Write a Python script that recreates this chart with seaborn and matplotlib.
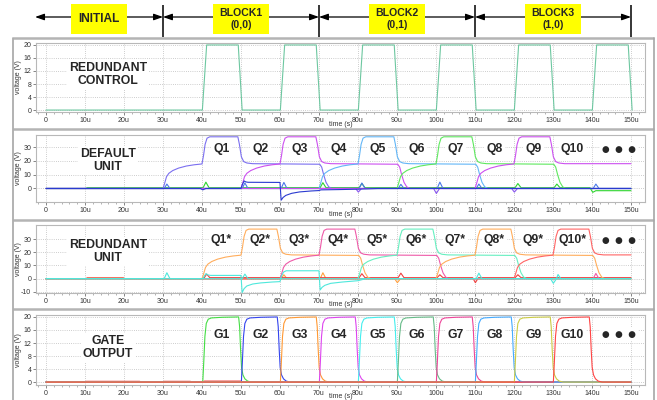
import numpy as np
import pandas as pd
import matplotlib
matplotlib.use("Agg")
import matplotlib.pyplot as plt
import seaborn as sns
from matplotlib.patches import Rectangle
from matplotlib.ticker import FixedLocator, MultipleLocator

# ---------------------------------------------------------------- data ----
T_END = 150  # simulation end, µs

x_ticks = [0, 10, 20, 30, 40, 50, 60, 70, 80, 90, 100, 110, 120, 130, 140, 150]
x_tick_labels = ["0"] + [f"{v}u" for v in x_ticks[1:]]

# phase header
block_edges = [-2.8, 30, 70, 110, 150]
block_names = ["INITIAL", "BLOCK1\n(0,0)", "BLOCK2\n(0,1)", "BLOCK3\n(1,0)"]

# redundant control signal
ctrl_t = [0, 40.1, 41.2, 49.3, 50.3, 60.1, 61.2, 69.3, 70.3, 80.1, 81.2, 89.3, 90.3,
          100.1, 101.2, 109.3, 110.3, 120.1, 121.2, 129.3, 130.3, 140.1, 141.2, 149.3, 150.3]
ctrl_v = [0, 0, 20, 20, 0, 0, 20, 20, 0, 0, 20, 20, 0,
          0, 20, 20, 0, 0, 20, 20, 0, 0, 20, 20, 0]

# Q node waveform, relative to the start of its charging phase
q_dt = [0, 0.4, 0.9, 1.5, 2.5, 4, 6, 8, 10, 10.4, 10.8, 11.3, 12, 19.2, 19.6, 20.1,
        20.7, 21.5, 23, 40.2, 40.7, 41.2, 41.8, 42.5, 43.3]
q_v = [0, 3.5, 8.5, 11, 13, 14.8, 16.3, 17.2, 17.8, 24, 32, 36.5, 37.5, 37.5, 32, 23,
       19.5, 18.5, 18, 17.6, 15.5, 10, 4.5, 1.2, 0]

default_q_names = ["Q1", "Q3", "Q5", "Q7", "Q9"]
default_q_start = [30, 50, 70, 90, 110]
default_q_colors = ["#7b6ff0", "#cc4ff0", "#62b6f7", "#5ee85e", "#cc4ff0"]

redundant_q_names = ["Q2*", "Q4*", "Q6*", "Q8*", "Q10*"]
redundant_q_start = [40, 60, 80, 100, 120]
redundant_q_colors = ["#ffad5c", "#ee5aa8", "#66efc0", "#ffad5c", "#ff6464"]

# default unit: auxiliary nodes
def_green_t = [0, 10.2, 10.6, 40.3, 41, 41.8, 70.3, 71, 71.8, 80.3, 81, 81.8, 120.3, 121,
               121.8, 130.3, 131, 131.8, 139.5, 140.2, 141, 150]
def_green_v = [0, 0, 0.6, 0.6, 4.6, 0.6, 0.6, 4.2, 0.6, 0.6, 3.6, 0.6, 0.6, 3.6,
               0.6, 0.6, 3.2, 0.6, 0.6, -2.8, -1.6, -1.6]
def_blue_t = [0, 30.3, 31, 31.8, 50.3, 51, 51.8, 60.3, 61, 61.8, 80.3, 81, 81.8, 90.3, 91,
              91.8, 100.3, 101, 101.8, 110.3, 111, 111.8, 140.3, 141, 141.8, 150]
def_blue_v = [0, 0, 3.2, 0, 0, 4, 0, 0, 4.4, 0, 0, 4, 0, 0, 3,
              0, 0, 4.6, 0, 0, 3.2, 0, 0, 3.2, 0, 0]
def_dip_t = [0, 79.4, 80.1, 80.9, 99.4, 100.1, 100.9, 119.4, 120.1, 120.9, 150]
def_dip_v = [0, 0, -2.6, 0, 0, -3.6, 0, 0, -2.6, 0, 0]
def_drv_t = [0, 39.6, 40.2, 41.0, 50.0, 50.3, 50.8, 51.2, 51.8, 60.0, 60.3, 60.8, 61.5,
             63, 65, 68, 70, 70.5, 75, 80, 85, 150]
def_drv_v = [0, 0, -1.0, 0, 0, 2.5, 5.5, 4.8, 4.5, 4.4, -8.5, -6.5, -5.0,
             -3.5, -2.5, -1.8, -1.5, -1.0, -0.8, -0.5, 0, 0]

# redundant unit: auxiliary nodes
red_drv_t = [0, 30.3, 31, 31.8, 40.2, 40.6, 41.0, 41.6, 42.2, 50.0, 50.3, 50.8, 51.5, 53,
             55, 58, 60, 60.4, 60.9, 61.6, 62.5, 70.0, 70.3, 70.8, 71.5, 73, 76, 80, 82, 150]
red_drv_v = [0, 0, 4.5, 0, 0, 2.0, 3.8, 2.8, 2.5, 2.5, -10.5, -7.5, -5.5, -4.0,
             -3.2, -2.5, -2.2, 2.0, 5.0, 6.0, 6.0, 6.0, -8.5, -6.5, -5.0, -3.5, -2.5, -1.5, 0, 0]
red_cyan_t = [0, 50.3, 51, 51.8, 110.3, 111, 111.8, 129.4, 130.1, 130.9, 131.3, 132, 150]
red_cyan_v = [0, 0, 3.5, 0, 0, 4.2, 0, 0, -3.5, 0, 3.2, 0, 0]
red_red_t = [0, 10.2, 10.6, 19.8, 20.2, 40.2, 40.6, 41.2, 42, 80.3, 81, 81.8, 90.3, 91,
             91.8, 100.3, 101, 101.8, 109.4, 110.1, 110.9, 120.3, 121, 121.8, 150]
red_red_v = [0, 0, 0.6, 0.6, 0, 0, 0.8, 3.5, 0.8, 0.8, 3.8, 0.8, 0.8, 4.2,
             0.8, 0.8, 3.0, 0.8, 0.8, -3.0, 0.8, 0.8, 3.0, 0.8, 0.8]
red_orange_t = [0, 10.2, 10.6, 19.8, 20.2, 60.3, 61, 61.8, 70.3, 71, 71.8, 89.4, 90.1,
                90.9, 150]
red_orange_v = [0, 0, 0.5, 0.5, 0, 0, 3.0, 0, 0, 4.5, 0, 0, -3.0, 0, 0]
red_pink_t = [0, 140.3, 141, 141.8, 150]
red_pink_v = [0, 0, 4.0, 0, 0]

# gate output pulse, relative to its rising edge
g_dt = [0, 0.25, 0.55, 0.9, 1.4, 2.2, 5, 9.2, 9.45, 9.7, 9.95, 10.3, 10.8, 11.5, 12.5]
g_v = [0, 6, 14, 18, 19.3, 19.7, 19.9, 20, 17, 10, 4.5, 2.2, 1.0, 0.3, 0]

gate_names = ["G1", "G2", "G3", "G4", "G5", "G6", "G7", "G8", "G9", "G10"]
gate_start = [40.2, 50.1, 60.1, 70.1, 80.1, 90.1, 100.1, 110.1, 120.1, 130.1]
gate_colors = ["#44dd44", "#3344ee", "#ff9933", "#dd44ee", "#44eeee",
               "#66bb88", "#ee4499", "#44aaff", "#cccc44", "#ff4444"]
gate_leak_t = [0, 10, 10.3, 24, 24.3, 30, 30.3, 37, 37.3, 40.3, 40.6, 50, 50.3, 150]
gate_leak_v = [0, 0, 0.25, 0.25, 0, 0, 0.25, 0.25, 0, 0, 0.35, 0.35, 0, 0]

default_labels = ["Q1", "Q2", "Q3", "Q4", "Q5", "Q6", "Q7", "Q8", "Q9", "Q10"]
redundant_labels = ["Q1*", "Q2*", "Q3*", "Q4*", "Q5*", "Q6*", "Q7*", "Q8*", "Q9*", "Q10*"]


def node_trace(start, dts, vs, t_end=T_END):
    """Place a waveform shape at `start`; the node sits at 0 before it and
    holds its last level up to the end of the run."""
    t = [0.0] + [start + d for d in dts]
    v = [0.0] + list(vs)
    pts = [(a, b) for a, b in zip(t, v) if a <= t_end]
    if pts[-1][0] < t_end:
        pts.append((t_end, pts[-1][1]))
    return [p[0] for p in pts], [p[1] for p in pts]


# ---------------------------------------------------------------- figure --
sns.set_theme(style="white")
plt.rcParams["font.family"] = ["Liberation Sans", "DejaVu Sans"]

W, H = 657, 400
fig = plt.figure(figsize=(W / 100, H / 100), dpi=100, facecolor="white")


def px_axes(l, t, r, b, **kw):
    return fig.add_axes([l / W, 1 - b / H, (r - l) / W, (b - t) / H], **kw)


XLIM = (-2.56, 153.6)
LW = 0.8

# panel frame
deco = px_axes(0, 0, W, H, zorder=-5)
deco.set_xlim(0, W)
deco.set_ylim(H, 0)
deco.axis("off")
for yy in [38, 129, 220, 309]:
    deco.plot([12.7, 654], [yy, yy], color="#b4b4b4", lw=1.8, solid_capstyle="butt")
for xx in [12.7, 654]:
    deco.plot([xx, xx], [38, H], color="#a6a6a6", lw=1.2)

# phase header
hdr = px_axes(36, 0, 645, 38)
hdr.set_xlim(*XLIM)
hdr.set_ylim(38, 0)
hdr.axis("off")
hdr.vlines(block_edges, 5, 37, color="black", lw=1.1)
for a, b, name in zip(block_edges[:-1], block_edges[1:], block_names):
    hdr.annotate("", xy=(b, 17), xytext=(a, 17),
                 arrowprops=dict(arrowstyle="<|-|>,head_length=0.45,head_width=0.16",
                                 color="black", lw=0.9, shrinkA=0, shrinkB=0))
    mid = (a + b) / 2
    hdr.add_patch(Rectangle((mid - 7.2, 3.5), 14.4, 30.5, facecolor="#ffff00",
                            edgecolor="none", zorder=3))
    single = "\n" not in name
    hdr.text(mid, 19 if single else 18.8, name, ha="center", va="center",
             fontsize=8.6 if single else 7.6, fontweight="bold", zorder=4,
             linespacing=1.3)

panels = [
    dict(top=43, bottom=112, ylim=(-0.6, 20.6), yticks=[0, 4, 8, 12, 16, 20]),
    dict(top=135, bottom=202, ylim=(-9.8, 38.8), yticks=[0, 10, 20, 30]),
    dict(top=225, bottom=293, ylim=(-10.8, 40.6), yticks=[-10, 0, 10, 20, 30]),
    dict(top=315, bottom=385, ylim=(-0.9, 20.6), yticks=[0, 4, 8, 12, 16, 20]),
]

# traces per panel: (name, t, v, colour)
traces = [[], [], [], []]
traces[0].append(("ctrl", ctrl_t, ctrl_v, "#6dc7a0"))

traces[1].append(("def_green", def_green_t, def_green_v, "#2ed42e"))
traces[1].append(("def_blue", def_blue_t, def_blue_v, "#4a78e8"))
traces[1].append(("def_dip", def_dip_t, def_dip_v, "#8855ee"))
for n, s, c in zip(default_q_names, default_q_start, default_q_colors):
    t, v = node_trace(s, q_dt, q_v)
    traces[1].append((n, t, v, c))
traces[1].append(("def_drv", def_drv_t, def_drv_v, "#2a3ad0"))

traces[2].append(("red_orange", red_orange_t, red_orange_v, "#ffa040"))
traces[2].append(("red_red", red_red_t, red_red_v, "#ee4040"))
traces[2].append(("red_pink", red_pink_t, red_pink_v, "#ee5aa8"))
for n, s, c in zip(redundant_q_names, redundant_q_start, redundant_q_colors):
    t, v = node_trace(s, q_dt, q_v)
    traces[2].append((n, t, v, c))
traces[2].append(("red_cyan", red_cyan_t, red_cyan_v, "#4ee8dc"))
traces[2].append(("red_drv", red_drv_t, red_drv_v, "#4ee8dc"))

traces[3].append(("gate_leak", gate_leak_t, gate_leak_v, "#f07070"))
for n, s, c in zip(gate_names, gate_start, gate_colors):
    t, v = node_trace(s, g_dt, g_v)
    traces[3].append((n, t, v, c))

panel_titles = ["REDUNDANT\nCONTROL", "DEFAULT\nUNIT", "REDUNDANT\nUNIT", "GATE\nOUTPUT"]
title_y = [11, 20.4, 20.7, 10.6]
slot_labels = [None, default_labels, redundant_labels, gate_names]
slot_y = [None, 28.5, 29, 14.5]

label_box = dict(facecolor="white", edgecolor="none", pad=1.5)

for i, spec in enumerate(panels):
    ax = px_axes(36, spec["top"], 645, spec["bottom"])
    rows = []
    for name, t, v, _ in traces[i]:
        rows.append(pd.DataFrame({"t": t, "v": v, "trace": name}))
    df = pd.concat(rows, ignore_index=True)
    order = [tr[0] for tr in traces[i]]
    pal = {tr[0]: tr[3] for tr in traces[i]}
    sns.lineplot(data=df, x="t", y="v", hue="trace", hue_order=order, palette=pal,
                 estimator=None, sort=False, lw=LW, legend=False, ax=ax)

    ax.set_xlim(*XLIM)
    ax.set_ylim(*spec["ylim"])
    ax.xaxis.set_major_locator(FixedLocator(x_ticks))
    ax.set_xticklabels(x_tick_labels)
    ax.xaxis.set_minor_locator(MultipleLocator(2))
    ax.yaxis.set_major_locator(FixedLocator(spec["yticks"]))
    ax.set_yticklabels([str(y) for y in spec["yticks"]])
    ax.tick_params(axis="both", which="major", labelsize=5, colors="#555555",
                   labelcolor="#333333", length=2.2, width=0.5, pad=1.2, direction="out",
                   bottom=True, left=True)
    ax.tick_params(axis="x", which="minor", length=1.2, width=0.4, colors="#777777",
                   bottom=True)
    ax.grid(True, which="major", color="#bdbdbd", lw=0.6, ls=(0, (1, 1.6)))
    ax.set_axisbelow(True)
    for sp in ax.spines.values():
        sp.set_color("#b8b8b8")
        sp.set_linewidth(0.8)
    ax.set_xlabel("time (s)", fontsize=5, color="#333333")
    ax.set_ylabel("voltage (V)", fontsize=5, color="#333333")
    hpx = spec["bottom"] - spec["top"]
    ax.xaxis.set_label_coords(0.5, -8.5 / hpx)
    ax.yaxis.set_label_coords(-14 / 609, 0.5)

    ax.text(15.9, title_y[i], panel_titles[i], ha="center", va="center",
            fontsize=8.8, fontweight="bold", linespacing=1.15, bbox=label_box,
            zorder=1.5)
    if slot_labels[i] is not None:
        for k, lab in enumerate(slot_labels[i]):
            ax.text(10 * (k + 1) + 35, slot_y[i], lab, ha="center", va="center",
                    fontsize=8.8, fontweight="bold", bbox=label_box, zorder=1.5)
        ax.text(147, slot_y[i], "●  ●  ●", ha="center", va="center", fontsize=6.3,
                family=["DejaVu Sans"], bbox=label_box, zorder=1.5)

fig.savefig("out.png", dpi=100, facecolor="white")
